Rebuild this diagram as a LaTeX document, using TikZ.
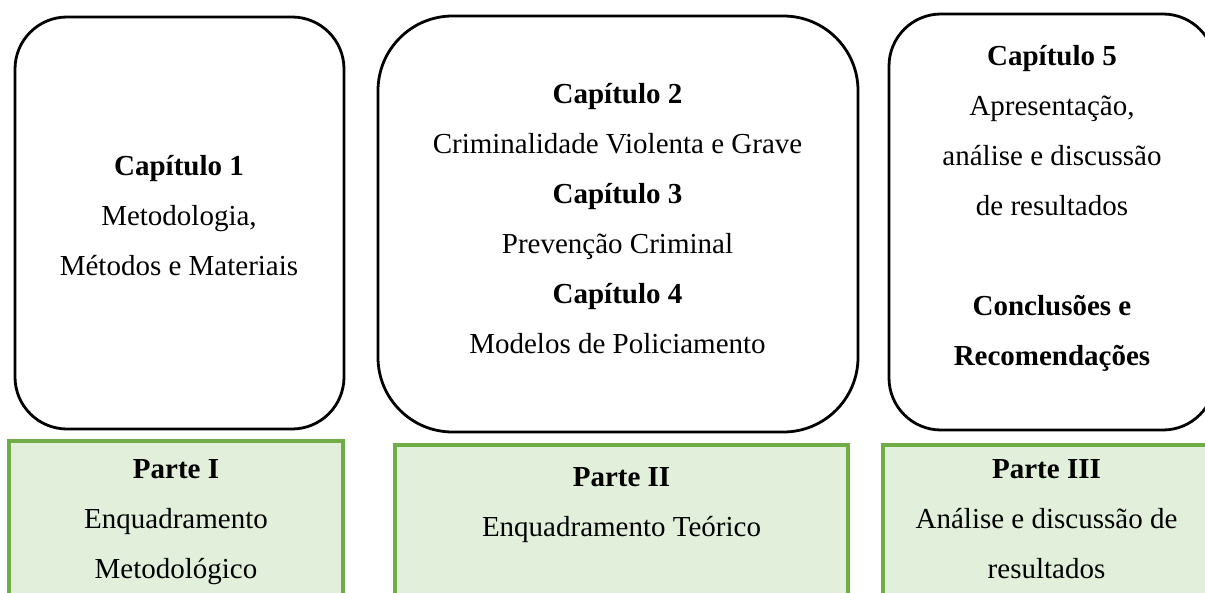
\documentclass[tikz,border=0pt]{standalone}
\usepackage{fontspec}
\setmainfont{Liberation Serif}
\definecolor{gfill}{HTML}{E2EFDA}
\definecolor{gline}{HTML}{70AD47}
\begin{document}
\begin{tikzpicture}[x=0.75pt,y=-0.75pt,
  chapbox/.style={draw=black,line width=2.1pt,rectangle,inner sep=0pt,outer sep=0pt},
  partbox/.style={draw=gline,fill=gfill,line width=2.6pt,rectangle,inner sep=0pt,outer sep=0pt},
  txt/.style={inner sep=0pt,align=center,font=\fontsize{21.75pt}{37.5pt}\selectfont}]
\useasboundingbox (0,0) rectangle (1205,592);
\clip (0,0) rectangle (1205,592);
% chapter boxes
\node[chapbox,rounded corners=39pt,minimum width=246.75pt,minimum height=309pt] (c1) at (179.5,223) {};
\node[chapbox,rounded corners=56pt,minimum width=360pt,minimum height=312pt] (c2) at (618,224) {};
\node[chapbox,rounded corners=39pt,minimum width=244.5pt,minimum height=312pt] (c3) at (1052,222) {};
% part boxes
\node[partbox,minimum width=250.5pt,minimum height=134.25pt] (p1) at (176,530.5) {};
\node[partbox,minimum width=339.75pt,minimum height=131.25pt] (p2) at (621.5,532.5) {};
\node[partbox,minimum width=246.75pt,minimum height=131.25pt] (p3) at (1047.5,532.5) {};
% texts
\node[txt] (t1) at (179,216) {\textbf{Capítulo 1}\\Metodologia,\\Métodos e Materiais};
\node[txt] (t2) at (617.5,219) {\textbf{Capítulo 2}\\Criminalidade Violenta e Grave\\\textbf{Capítulo 3}\\Prevenção Criminal\\\textbf{Capítulo 4}\\Modelos de Policiamento};
\node[txt] (t3) at (1052,208) {\textbf{Capítulo 5}\\Apresentação,\\análise e discussão\\de resultados\\[37.5pt]\textbf{Conclusões e}\\\textbf{Recomendações}};
\node[txt] (u1) at (176,522) {\textbf{Parte I}\\Enquadramento\\Metodológico};
\node[txt] (u2) at (621.5,505) {\textbf{Parte II}\\Enquadramento Teórico};
\node[txt] (u3) at (1046.5,519) {\textbf{Parte III}\\Análise e discussão de\\resultados};
\end{tikzpicture}
\end{document}
